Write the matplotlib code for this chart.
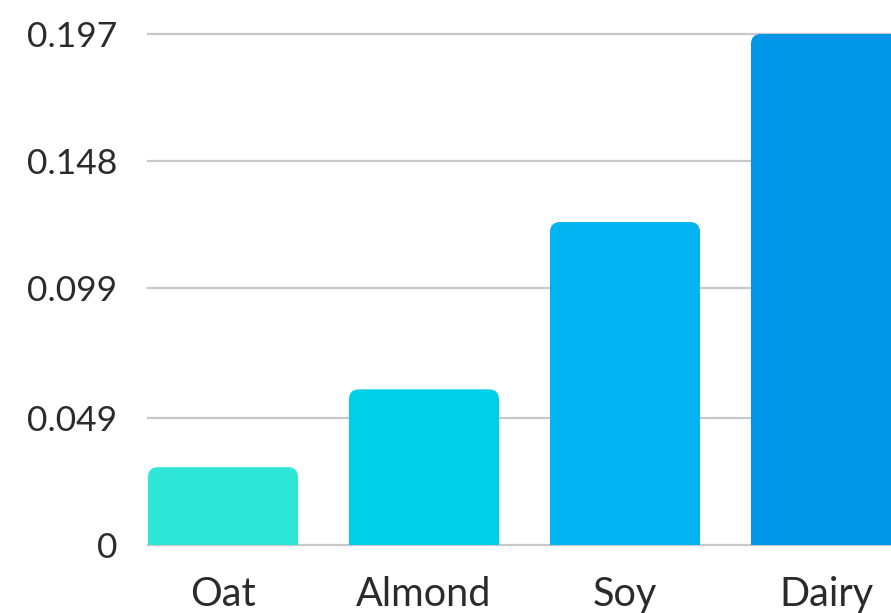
import matplotlib
matplotlib.use("Agg")
import matplotlib.pyplot as plt
from matplotlib.path import Path
from matplotlib.patches import PathPatch

categories = ["Oat", "Almond", "Soy", "Dairy"]
values = [0.030, 0.060, 0.1245, 0.197]
colors = ["#2EE6D6", "#00CFE8", "#02B4F2", "#0096E8"]
tick_values = [0, 0.049, 0.099, 0.148, 0.197]
tick_labels = ["0", "0.049", "0.099", "0.148", "0.197"]

plt.rcParams['font.family'] = ['Lato', 'DejaVu Sans']

W, H = 891, 613
fig = plt.figure(figsize=(W / 100, H / 100), dpi=100)
ax = fig.add_axes([148 / W, 68 / H, (W - 148) / W, 511 / H])

ymax = 0.197
bar_w = 150 / 201
ax.set_xlim(-bar_w / 2, -bar_w / 2 + (W - 148) / 201)
ax.set_ylim(0, ymax)

rx = 10 / 201
ry = 10 / 511 * ymax
for i, (v, c) in enumerate(zip(values, colors)):
    x0, x1 = i - bar_w / 2, i + bar_w / 2
    verts = [(x0, 0), (x0, v - ry), (x0, v), (x0 + rx, v), (x1 - rx, v),
             (x1, v), (x1, v - ry), (x1, 0), (x0, 0)]
    codes = [Path.MOVETO, Path.LINETO, Path.CURVE3, Path.CURVE3, Path.LINETO,
             Path.CURVE3, Path.CURVE3, Path.LINETO, Path.CLOSEPOLY]
    ax.add_patch(PathPatch(Path(verts, codes), facecolor=c, edgecolor='none', zorder=2))

for t in tick_values:
    ax.axhline(t, color="#c8c8c8", lw=1.6, zorder=1, clip_on=False)

ax.set_yticks(tick_values)
ax.set_yticklabels(tick_labels)
ax.set_xticks(range(len(categories)))
ax.set_xticklabels(categories)
ax.tick_params(axis='y', length=0, pad=22, labelsize=25.5, labelcolor="#2b2b2b")
ax.tick_params(axis='x', length=0, pad=22, labelsize=28.5, labelcolor="#2b2b2b")
for s in ax.spines.values():
    s.set_visible(False)

fig.savefig("out.png", dpi=100)
